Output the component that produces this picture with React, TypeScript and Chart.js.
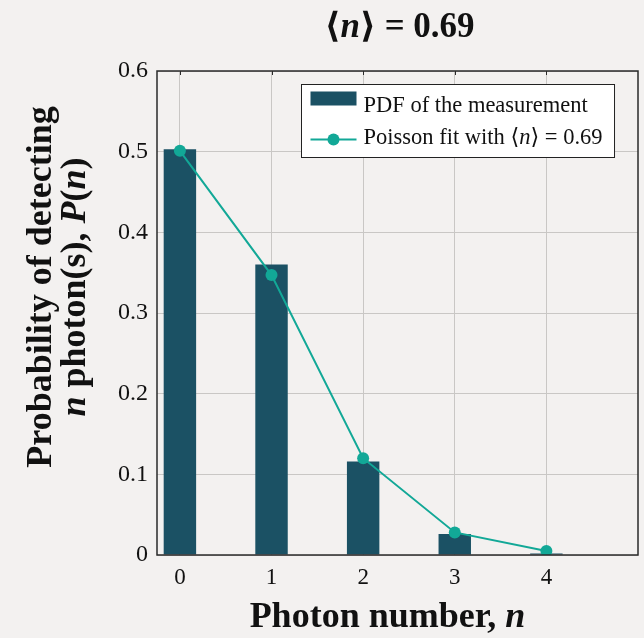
import React, { useEffect, useRef } from "react";
import { Chart, registerables } from "chart.js";

Chart.register(...registerables);

// ---- data ----
const photonNumbers = [0, 1, 2, 3, 4];
const measuredPdf = [0.503, 0.36, 0.116, 0.026, 0.002];
const poissonFit = [0.501, 0.347, 0.12, 0.028, 0.005];
const xTickValues = [0, 1, 2, 3, 4];
const yMin = 0;
const yMax = 0.6;
const yStep = 0.1;
const xMin = -0.25;
const xMax = 5;
const meanLabel = "0.69";
const barLabel = "PDF of the measurement";
const lineLabel = "Poisson fit with ⟨n⟩ = 0.69";

// ---- style ----
const SERIF = '"Liberation Serif", "DejaVu Serif", serif';
const BAR_COLOR = "#1b5164";
const LINE_COLOR = "#12a897";
const BG = "#f3f1f0";
const GRID = "#c9c7c5";
const INK = "#111111";

type Run = [string, string];

function font(size: number, bold: boolean, italic: boolean) {
  return `${italic ? "italic " : ""}${bold ? "bold " : ""}${size}px ${SERIF}`;
}

// split a label so that a standalone "n" or "P" (math symbols) is italic
function mathRuns(text: string, size: number, bold: boolean): Run[] {
  const runs: Run[] = [];
  const re = /(\b[nP]\b)(?![a-z])/g;
  let last = 0;
  let m: RegExpExecArray | null;
  while ((m = re.exec(text)) !== null) {
    if (m.index > last) runs.push([text.slice(last, m.index), font(size, bold, false)]);
    runs.push([m[1], font(size, bold, true)]);
    last = m.index + m[1].length;
  }
  if (last < text.length) runs.push([text.slice(last), font(size, bold, false)]);
  return runs;
}

function runsWidth(ctx: CanvasRenderingContext2D, runs: Run[]) {
  let w = 0;
  for (const [t, f] of runs) {
    ctx.font = f;
    w += ctx.measureText(t).width;
  }
  return w;
}

function drawRuns(
  ctx: CanvasRenderingContext2D,
  runs: Run[],
  x: number,
  y: number,
  align: "left" | "center"
) {
  const w = runsWidth(ctx, runs);
  let cx = align === "center" ? x - w / 2 : x;
  ctx.textAlign = "left";
  ctx.textBaseline = "alphabetic";
  ctx.fillStyle = INK;
  for (const [t, f] of runs) {
    ctx.font = f;
    ctx.fillText(t, cx, y);
    cx += ctx.measureText(t).width;
  }
}

const decorPlugin = {
  id: "decor",
  beforeDraw(chart: any) {
    const ctx = chart.ctx as CanvasRenderingContext2D;
    ctx.save();
    ctx.fillStyle = BG;
    ctx.fillRect(0, 0, chart.width, chart.height);
    ctx.restore();
  },
  afterDatasetsDraw(chart: any) {
    const ctx = chart.ctx as CanvasRenderingContext2D;
    const a = chart.chartArea;
    ctx.save();
    // frame
    ctx.strokeStyle = "#2a2a2a";
    ctx.lineWidth = 1.5;
    ctx.strokeRect(a.left, a.top, a.right - a.left, a.bottom - a.top);

    // inward tick marks at top
    const xs = chart.scales.x;
    ctx.lineWidth = 1;
    for (const v of xTickValues) {
      const px = Math.round(xs.getPixelForValue(v)) + 0.5;
      ctx.beginPath();
      ctx.moveTo(px, a.top);
      ctx.lineTo(px, a.top + 4);
      ctx.stroke();
    }

    // title
    const cx = (a.left + a.right) / 2;
    drawRuns(
      ctx,
      [
        ["⟨", font(35, true, false)],
        ["n", font(35, true, true)],
        ["⟩ = " + meanLabel, font(35, true, false)],
      ],
      cx + 2,
      37,
      "center"
    );

    // x axis title
    drawRuns(ctx, mathRuns("Photon number, n", 36, true), cx - 10, 627, "center");

    // y axis title (two lines, rotated)
    ctx.save();
    ctx.translate(0, 287);
    ctx.rotate(-Math.PI / 2);
    drawRuns(ctx, mathRuns("Probability of detecting", 36, true), 0, 51, "center");
    drawRuns(ctx, mathRuns("n photon(s), P(n)", 36, true), 0, 85, "center");
    ctx.restore();

    // legend
    const items = chart.data.datasets.map((d: any) => d);
    const rowRuns = [mathRuns(barLabel, 22.5, false), mathRuns(lineLabel, 22.5, false)];
    const textW = Math.max(...rowRuns.map((r) => runsWidth(ctx, r)));
    const boxW = 9 + 46 + 7 + textW + 12;
    const boxH = 73;
    const bx = Math.round(a.right - 24 - boxW) + 0.5;
    const by = Math.round(a.top + 13) + 0.5;
    ctx.fillStyle = "#ffffff";
    ctx.fillRect(bx, by, boxW, boxH);
    ctx.strokeStyle = "#222222";
    ctx.lineWidth = 1;
    ctx.strokeRect(bx, by, boxW, boxH);

    // row 1: bar swatch
    ctx.fillStyle = items[0].backgroundColor;
    ctx.fillRect(bx + 9, by + 7, 46, 14);
    drawRuns(ctx, rowRuns[0], bx + 62, by + 27, "left");

    // row 2: line + marker
    const ly = by + 55;
    ctx.strokeStyle = items[1].borderColor;
    ctx.lineWidth = 2;
    ctx.beginPath();
    ctx.moveTo(bx + 9, ly);
    ctx.lineTo(bx + 55, ly);
    ctx.stroke();
    ctx.fillStyle = items[1].pointBackgroundColor;
    ctx.beginPath();
    ctx.arc(bx + 32, ly, 6, 0, Math.PI * 2);
    ctx.fill();
    drawRuns(ctx, rowRuns[1], bx + 62, by + 59, "left");

    ctx.restore();
  },
};

export default function App() {
  const canvasRef = useRef<HTMLCanvasElement | null>(null);

  useEffect(() => {
    const canvas = canvasRef.current;
    if (!canvas) return;
    const chart = new Chart(canvas, {
      type: "bar",
      data: {
        datasets: [
          {
            type: "bar",
            label: barLabel,
            data: photonNumbers.map((n, i) => ({ x: n, y: measuredPdf[i] })),
            backgroundColor: BAR_COLOR,
            borderWidth: 0,
            categoryPercentage: 1,
            barPercentage: 0.354,
            order: 1,
          } as any,
          {
            type: "line",
            label: lineLabel,
            data: photonNumbers.map((n, i) => ({ x: n, y: poissonFit[i] })),
            borderColor: LINE_COLOR,
            backgroundColor: LINE_COLOR,
            pointBackgroundColor: LINE_COLOR,
            pointBorderWidth: 0,
            pointRadius: 6,
            borderWidth: 2,
            tension: 0,
            order: 0,
          } as any,
        ],
      },
      options: {
        responsive: false,
        animation: false,
        devicePixelRatio: 1,
        layout: { padding: { top: 71, right: 2, bottom: 0, left: 0 } },
        plugins: {
          legend: { display: false },
          title: { display: false },
          tooltip: { enabled: false },
        },
        scales: {
          x: {
            type: "linear",
            min: xMin,
            max: xMax,
            offset: false,
            grid: { color: GRID, lineWidth: 1, drawTicks: false, offset: false },
            border: { display: false },
            afterBuildTicks: (scale: any) => {
              scale.ticks = xTickValues.map((v) => ({ value: v }));
            },
            afterFit: (scale: any) => {
              scale.height = 83;
            },
            ticks: {
              color: INK,
              font: { family: SERIF, size: 23 },
              padding: 9,
              callback: (v: any) => String(v),
            },
          },
          y: {
            type: "linear",
            min: yMin,
            max: yMax,
            grid: { color: GRID, lineWidth: 1, drawTicks: false },
            border: { display: false },
            afterFit: (scale: any) => {
              scale.width = 157;
            },
            ticks: {
              stepSize: yStep,
              color: INK,
              font: { family: SERIF, size: 24 },
              padding: 9,
              callback: (v: any) => (Number(v) === 0 ? "0" : Number(v).toFixed(1)),
            },
          },
        },
      },
      plugins: [decorPlugin],
    } as any);
    return () => chart.destroy();
  }, []);

  return (
    <div style={{ position: "fixed", left: 0, top: 0, width: 644, height: 638 }}>
      <canvas ref={canvasRef} width={644} height={638} />
    </div>
  );
}
